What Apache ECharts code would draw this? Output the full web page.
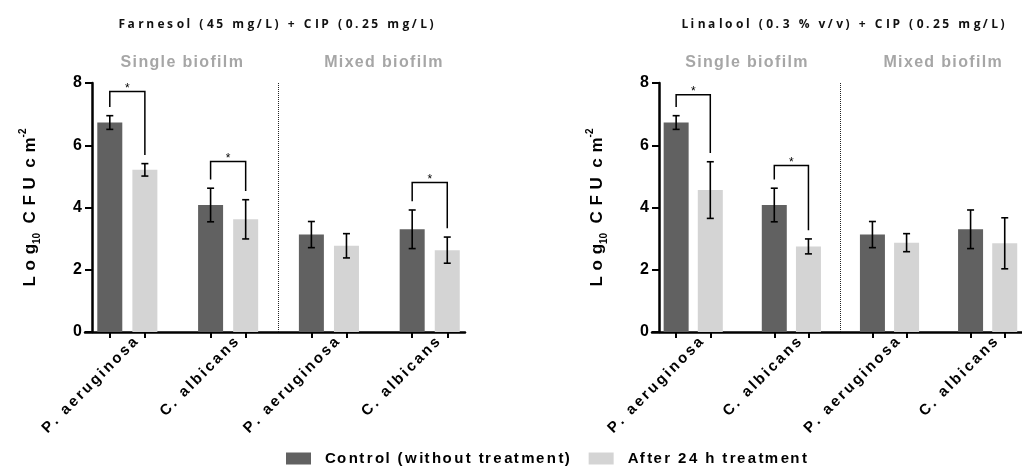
<!DOCTYPE html>
<html>
<head>
<meta charset="utf-8">
<script src="https://cdn.jsdelivr.net/npm/echarts@6/dist/echarts.min.js"></script>
<style>
  html, body { margin: 0; padding: 0; background: #fff; }
  #chart { width: 1022px; height: 467px; }
</style>
</head>
<body>
<div id="chart"></div>
<script>
// ---- data ----
const categories = ['P. aeruginosa', 'C. albicans', 'P. aeruginosa', 'C. albicans'];
const biofilmTypes = ['Single biofilm', 'Mixed biofilm'];
const seriesNames = ['Control (without treatment)', 'After 24 h treatment'];
const panelTitles = ['Farnesol (45 mg/L) + CIP (0.25 mg/L)', 'Linalool (0.3 % v/v) + CIP (0.25 mg/L)'];
const yTicks = [0, 2, 4, 6, 8];

// Log10 CFU cm-2, mean and SD per category
const controlMean = [6.73, 4.08, 3.13, 3.30];
const controlSd   = [0.22, 0.54, 0.42, 0.62];
const farnesolMean = [5.21, 3.62, 2.77, 2.63];
const farnesolSd   = [0.20, 0.63, 0.39, 0.42];
const linaloolMean = [4.56, 2.75, 2.87, 2.85];
const linaloolSd   = [0.91, 0.24, 0.29, 0.82];

// significance brackets: [category index, bracket level]
const farnesolSig = [[0, 7.73], [1, 5.48], [3, 4.80]];
const linaloolSig = [[0, 7.62], [1, 5.35]];

// ---- layout helpers ----
const OFF = 0.174;        // half distance between paired bars (category units)
const LEG_GAP = 0.28;     // space between error bar top and bracket leg
const HAIR = '\u200A';
const FONT = '"Liberation Sans", Arial, sans-serif';
const DARK = '#616161';
const LIGHT = '#d4d4d4';

// widen tracking by inserting hair spaces (n may be fractional)
function spread(s, n) {
  const ch = Array.from(s);
  let out = ch[0] || '';
  for (let i = 1; i < ch.length; i++) {
    const k = Math.floor(i * n) - Math.floor((i - 1) * n);
    out += HAIR.repeat(k) + ch[i];
  }
  return out;
}

const panels = [
  { title: panelTitles[0], after: farnesolMean, afterSd: farnesolSd, sig: farnesolSig, left: 85 },
  { title: panelTitles[1], after: linaloolMean, afterSd: linaloolSd, sig: linaloolSig, left: 652 }
];

const grids = [], xAxes = [], yAxes = [], series = [], graphics = [];

panels.forEach((p, i) => {
  grids.push({ left: p.left, top: 83, width: 380, height: 249 });

  xAxes.push({
    type: 'value', gridIndex: i, min: -0.42, max: 3.35,
    splitLine: { show: false },
    axisLine: { show: true, onZero: false, lineStyle: { color: '#000', width: 2.5 } },
    axisTick: {
      show: true, length: 6, lineStyle: { color: '#000', width: 2 },
      customValues: categories.flatMap((c, g) => [g - OFF, g + OFF])
    },
    axisLabel: {
      customValues: categories.map((c, g) => g + 0.08),
      formatter: v => spread(categories[Math.round(v)], 2),
      rotate: 45, margin: 8,
      fontFamily: FONT, fontSize: 15, fontWeight: 'bold', color: '#000'
    }
  });

  yAxes.push({
    type: 'value', gridIndex: i, min: yTicks[0], max: yTicks[yTicks.length - 1], interval: 2,
    offset: -7,
    splitLine: { show: false },
    axisLine: { show: true, onZero: false, lineStyle: { color: '#000', width: 2.5 } },
    axisTick: { show: true, length: 7, lineStyle: { color: '#000', width: 2 } },
    axisLabel: { margin: 10, fontFamily: FONT, fontSize: 16, fontWeight: 'bold', color: '#000' },
    name: spread('Log', 4) + '{sub|10}' + '  ' + spread('CFU', 4) + '  ' + spread('cm', 4) + '{sup|-2}',
    nameLocation: 'middle', nameGap: 50,
    nameTextStyle: {
      fontFamily: FONT, fontSize: 17, fontWeight: 'bold', color: '#000', lineHeight: 24,
      rich: {
        sub: { fontFamily: FONT, fontSize: 10, fontWeight: 'bold', color: '#000', verticalAlign: 'bottom', lineHeight: 24 },
        sup: { fontFamily: FONT, fontSize: 10, fontWeight: 'bold', color: '#000', verticalAlign: 'top', lineHeight: 24 }
      }
    }
  });

  // bars (both series centred on their own x values)
  series.push({
    name: seriesNames[0], type: 'bar', xAxisIndex: i, yAxisIndex: i, barWidth: 25, barGap: '-100%',
    itemStyle: { color: DARK },
    data: controlMean.map((v, g) => [g - OFF, v])
  });
  series.push({
    name: seriesNames[1], type: 'bar', xAxisIndex: i, yAxisIndex: i, barWidth: 25, barGap: '-100%',
    itemStyle: { color: LIGHT },
    data: p.after.map((v, g) => [g + OFF, v])
  });

  // error bars (mean ± SD)
  const errData = controlMean.map((v, g) => [g - OFF, v, controlSd[g]])
    .concat(p.after.map((v, g) => [g + OFF, v, p.afterSd[g]]));
  series.push({
    type: 'custom', xAxisIndex: i, yAxisIndex: i, z: 5, silent: true,
    encode: { x: 0, y: 1 },
    data: errData,
    renderItem: (params, api) => {
      const x = api.value(0), m = api.value(1), sd = api.value(2);
      const t = api.coord([x, m + sd]), b = api.coord([x, m - sd]);
      const w = 3.5, st = { stroke: '#000', lineWidth: 1.6 };
      return { type: 'group', children: [
        { type: 'line', shape: { x1: t[0], y1: t[1], x2: b[0], y2: b[1] }, style: st },
        { type: 'line', shape: { x1: t[0] - w, y1: t[1], x2: t[0] + w, y2: t[1] }, style: st },
        { type: 'line', shape: { x1: b[0] - w, y1: b[1], x2: b[0] + w, y2: b[1] }, style: st }
      ]};
    }
  });

  // significance brackets with asterisk
  const sigData = p.sig.map(([g, level]) => [
    g, level,
    controlMean[g] + controlSd[g] + LEG_GAP,
    p.after[g] + p.afterSd[g] + LEG_GAP
  ]);
  series.push({
    type: 'custom', xAxisIndex: i, yAxisIndex: i, z: 6, silent: true,
    encode: { x: 0, y: 1 },
    data: sigData,
    renderItem: (params, api) => {
      const g = api.value(0), lvl = api.value(1);
      const a = api.coord([g - OFF, api.value(2)]);
      const b = api.coord([g - OFF, lvl]);
      const c = api.coord([g + OFF, lvl]);
      const d = api.coord([g + OFF, api.value(3)]);
      return { type: 'group', children: [
        { type: 'polyline', shape: { points: [a, b, c, d] },
          style: { stroke: '#000', lineWidth: 1.5, fill: null } },
        { type: 'text', x: (b[0] + c[0]) / 2, y: b[1] - 3,
          style: { text: '*', fill: '#000', font: '12px ' + FONT, align: 'center', verticalAlign: 'middle' } }
      ]};
    }
  });

  // biofilm group headings, plus the dotted divider between the two halves
  series.push({
    type: 'custom', xAxisIndex: i, yAxisIndex: i, silent: true,
    encode: { x: 0, y: 1 },
    data: [[0.5, 8], [2.5, 8]],
    renderItem: (params, api) => {
      const pt = api.coord([api.value(0), api.value(1)]);
      return { type: 'text', x: pt[0] + 4, y: pt[1] - 20,
        style: { text: spread(biofilmTypes[params.dataIndex], 1), fill: '#a6a6a6',
          font: 'bold 16px ' + FONT, align: 'center', verticalAlign: 'middle' } };
    },
    markLine: {
      silent: true, symbol: 'none', label: { show: false },
      lineStyle: { type: 'dotted', color: '#222', width: 1 },
      data: [{ xAxis: 1.5 }]
    }
  });

  graphics.push({
    type: 'text', x: p.left + 191, y: 25,
    style: { text: spread(p.title, 2.5), fill: '#111', font: 'bold 12px "Open Sans", sans-serif',
      align: 'center', verticalAlign: 'middle' }
  });
});

const chart = echarts.init(document.getElementById('chart'), null, { renderer: 'canvas' });
chart.setOption({
  animation: false,
  backgroundColor: '#fff',
  grid: grids,
  xAxis: xAxes,
  yAxis: yAxes,
  legend: {
    data: seriesNames,
    left: 286, top: 451, padding: 0,
    itemWidth: 25, itemHeight: 12, itemGap: 19,
    icon: 'rect',
    formatter: n => spread(n, 1.6),
    textStyle: { fontFamily: FONT, fontSize: 15, fontWeight: 'bold', color: '#000', padding: [0, 0, 0, 9] }
  },
  graphic: graphics,
  series: series
});
</script>
</body>
</html>
